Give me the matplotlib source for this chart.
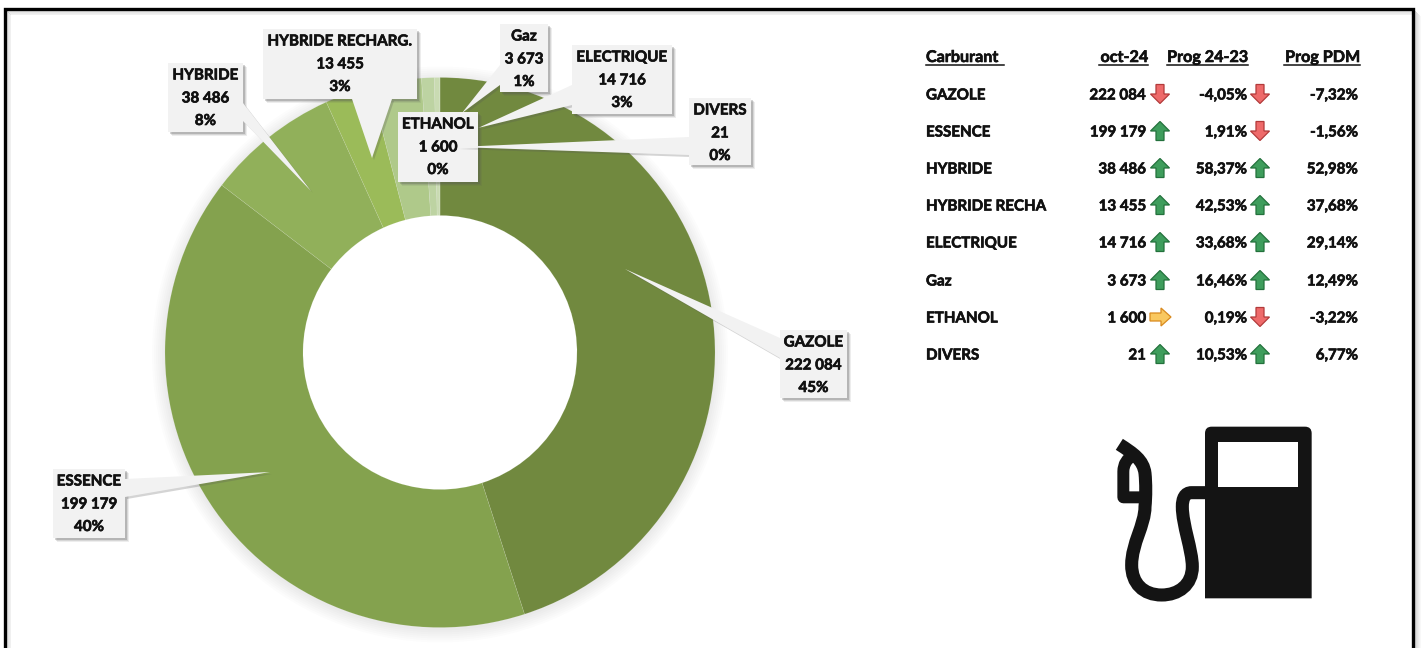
#!/usr/bin/env python3
"""Immatriculations par carburant : anneau a gauche, tableau a droite."""
import matplotlib
matplotlib.use("Agg")
import matplotlib.patheffects as pe
import matplotlib.pyplot as plt
from matplotlib.patches import Circle, PathPatch, Polygon, Rectangle
from matplotlib.path import Path
from matplotlib.transforms import Bbox, TransformedBbox

plt.rcParams["font.family"] = ["Lato", "DejaVu Sans"]
plt.rcParams["font.weight"] = "bold"

W, H = 1426, 648

carburants = ["GAZOLE", "ESSENCE", "HYBRIDE", "HYBRIDE RECHARG.",
              "ELECTRIQUE", "Gaz", "ETHANOL", "DIVERS"]
volumes = [222084, 199179, 38486, 13455, 14716, 3673, 1600, 21]
prog_24_23 = [-4.05, 1.91, 58.37, 42.53, 33.68, 16.46, 0.19, 10.53]
prog_pdm = [-7.32, -1.56, 52.98, 37.68, 29.14, 12.49, -3.22, 6.77]
fleche_volume = ["down", "up", "up", "up", "up", "up", "flat", "up"]
fleche_prog = ["down", "down", "up", "up", "up", "up", "down", "up"]

couleurs = ["#71893F", "#84A24E", "#91B05A", "#9BBB59",
            "#AFC98A", "#BDD3A2", "#C9DBB2", "#D5E3C4"]

# boites des etiquettes (gauche, droite, haut, bas) en pixels, puis la pointe
boites = {
    "GAZOLE": (780, 847, 330, 398),
    "ESSENCE": (53, 125, 469, 538),
    "HYBRIDE": (168, 243, 63, 132),
    "HYBRIDE RECHARG.": (263, 417, 29, 99),
    "Gaz": (500, 548, 24, 92),
    "ELECTRIQUE": (572, 672, 45, 114),
    "DIVERS": (689, 751, 98, 165),
    "ETHANOL": (398, 478, 112, 182),
}
pointeurs = {
    "GAZOLE": [(780, 338), (625, 269), (780, 358)],
    "ESSENCE": [(125, 479), (270, 472), (125, 497)],
    "HYBRIDE": [(243, 103), (311, 191), (243, 121)],
    "HYBRIDE RECHARG.": [(352, 99), (372, 158), (392, 99)],
    "Gaz": [(500, 65), (462, 113), (500, 85)],
    "ELECTRIQUE": [(572, 85), (478, 128), (572, 105)],
    "DIVERS": [(689, 137), (457, 147), (689, 155)],
}
ordre_etiquettes = ["GAZOLE", "ESSENCE", "HYBRIDE", "HYBRIDE RECHARG.", "Gaz",
                    "ELECTRIQUE", "ETHANOL", "DIVERS"]

lignes_y = [95.5, 132.5, 169.5, 206.5, 243.5, 281.5, 318.5, 355.5]
GRAS = [pe.withStroke(linewidth=0.45, foreground="#111111")]


def Y(y):
    return H - y


def fmt_vol(v):
    return f"{v:,}".replace(",", " ")


def fmt_pct(v):
    return f"{v:.2f}%".replace(".", ",")


def texte(ax, x, y, txt, ha="center", size=10.9, zorder=5):
    return ax.text(x, Y(y), txt, ha=ha, va="center", fontsize=size, color="#111111",
                   zorder=zorder, path_effects=GRAS)


def fleche(ax, cx, cy, sens):
    # petite fleche de mise en forme conditionnelle, 19 px
    if sens == "flat":
        pts = [(-10, -4), (1, -4), (1, -9), (11, 0), (1, 9), (1, 4), (-10, 4)]
        face, bord = "#F9C860", "#D98A1E"
    else:
        s = -1 if sens == "up" else 1
        pts = [(-4, -9.5 * s), (4, -9.5 * s), (4, 0), (9.5, 0), (0, 9.5 * s), (-9.5, 0), (-4, 0)]
        face, bord = ("#3E9D5C", "#23713C") if sens == "up" else ("#EE6A6A", "#B23A3A")
    ax.add_patch(Polygon([(cx + x, Y(cy + y)) for x, y in pts], closed=True,
                         fc=face, ec=bord, lw=0.9, zorder=5))


def etiquette(ax, nom, pct, zorder):
    g, d, h, b = boites[nom]
    forme = [(g, h), (d, h), (d, b), (g, b)]
    for dec, alpha in ((4, 0.10), (3, 0.15), (2, 0.25)):
        ax.add_patch(Polygon([(x + dec, Y(y + dec)) for x, y in forme], closed=True,
                             fc="#555555", ec="none", alpha=alpha, zorder=zorder))
    if nom in pointeurs:
        pts = pointeurs[nom]
        ax.add_patch(Polygon([(x + 2, Y(y + 2)) for x, y in pts], closed=True,
                             fc="#555555", ec="none", alpha=0.25, zorder=zorder))
        ax.add_patch(Polygon([(x, Y(y)) for x, y in pts], closed=True,
                             fc="#F2F2F2", ec="none", zorder=zorder + 0.1))
    ax.add_patch(Polygon([(x, Y(y)) for x, y in forme], closed=True,
                         fc="#F2F2F2", ec="none", zorder=zorder + 0.1))
    cx = (g + d) / 2
    vol = volumes[carburants.index(nom)]
    for y, txt in zip((h + 12.5, h + 35.5, h + 58), (nom, fmt_vol(vol), pct)):
        texte(ax, cx, y, txt, zorder=zorder + 0.2)


def pompe(ax):
    def P(x, y):
        return (1090 + x / 3, Y(410 + y / 3))

    codes_corps = [Path.MOVETO, Path.LINETO, Path.CURVE3, Path.CURVE3, Path.LINETO,
                   Path.CURVE3, Path.CURVE3, Path.LINETO, Path.CLOSEPOLY]
    corps = [P(345, 565), P(345, 70), P(345, 50), P(365, 50), P(645, 50),
             P(665, 50), P(665, 70), P(665, 565), P(345, 565)]
    ax.add_patch(PathPatch(Path(corps, codes_corps), fc="#141414", ec="none", zorder=3))
    x0, y0 = P(385, 232)
    x1, y1 = P(625, 97)
    ax.add_patch(Rectangle((x0, y0), x1 - x0, y1 - y0, fc="white", ec="none", zorder=4))

    tuyau = [P(345, 248), P(305, 248),
             P(285, 248), P(277, 265), P(277, 290),
             P(277, 345), P(307, 420), P(307, 470),
             P(307, 525), P(265, 555), P(215, 555),
             P(160, 555), P(125, 520), P(125, 465),
             P(125, 400), P(165, 345), P(165, 290),
             P(168, 260), P(168, 220), P(165, 190),
             P(160, 150), P(130, 130), P(88, 103)]
    codes = [Path.MOVETO, Path.LINETO] + [Path.CURVE4] * 21
    ax.add_patch(PathPatch(Path(tuyau, codes), fc="none", ec="#141414", lw=9.4, capstyle="butt",
                           zorder=3))
    boucle = [P(132, 135), P(100, 150), P(100, 185), P(100, 262), P(160, 262)]
    ax.add_patch(PathPatch(Path(boucle, [Path.MOVETO, Path.CURVE3, Path.CURVE3, Path.LINETO, Path.LINETO]),
                           fc="none", ec="#141414", lw=8.6, joinstyle="round", zorder=3))


fig = plt.figure(figsize=(W / 100, H / 100), dpi=100)
ax = fig.add_axes([0, 0, 1, 1])
ax.set_xlim(0, W)
ax.set_ylim(0, H)
ax.axis("off")

# cadre et son ombre
FX0, FX1, FY0 = 4.5, 1413, 8.5
for i in range(1, 8):
    a = 0.22 * (1 - i / 8)
    ax.add_patch(Rectangle((FX1 + i, 0), 1, Y(FY0 + i), fc="black", ec="none", alpha=a, zorder=0.5))
    if i < 6:
        ax.add_patch(Rectangle((FX0 + i, 0), 1, Y(FY0 + i), fc="black", ec="none", alpha=a * 0.7, zorder=0.5))
        ax.add_patch(Rectangle((FX0 + i, Y(FY0 + i + 1)), FX1 - FX0 - i, 1, fc="black", ec="none", alpha=a * 0.7, zorder=0.5))
ax.add_patch(Rectangle((FX0, -20), FX1 - FX0, Y(FY0) + 20, fc="none", ec="black", lw=2.4, zorder=0.6))

# ombre douce de l'anneau
cx, cy, r_ext, r_int = 440, 352.5, 275, 137
for dr in range(13, 0, -2):
    ax.add_patch(Circle((cx, Y(cy + 2)), r_ext + dr, fc="black", ec="none", alpha=0.012, zorder=1))
ax.add_patch(Circle((cx, Y(cy)), r_int + 2, fc="white", ec="none", zorder=1.5))

wedges, _ = ax.pie(volumes, colors=couleurs, startangle=90, counterclock=False,
                   center=(cx, Y(cy)), radius=r_ext, frame=True,
                   wedgeprops=dict(width=r_ext - r_int, edgecolor="#FFFFFF28", linewidth=0.4, zorder=2))
ax.set_xlim(0, W)
ax.set_ylim(0, H)
ax.set_aspect("equal")
ax.axis("off")

total = sum(volumes)
for i, nom in enumerate(ordre_etiquettes):
    pct = f"{volumes[carburants.index(nom)] / total * 100:.0f}%"
    etiquette(ax, nom, pct, 6 + i)

# tableau
for x, txt, ha, (u0, u1) in ((926, "Carburant", "left", (926, 1004)),
                             (1148, "oct-24", "right", (1099, 1148)),
                             (1248, "Prog 24-23", "right", (1167, 1248)),
                             (1360, "Prog PDM", "right", (1284, 1360))):
    texte(ax, x, 58, txt, ha=ha, size=11.6)
    ax.plot([u0, u1], [Y(65), Y(65)], color="#111111", lw=1.1, zorder=5)

clip_nom = TransformedBbox(Bbox([[920, 0], [1047, H]]), ax.transData)
for i, nom in enumerate(carburants):
    y = lignes_y[i]
    t = texte(ax, 926, y, nom, ha="left")
    t.set_clip_on(True)
    t.set_clip_box(clip_nom)
    texte(ax, 1146, y, fmt_vol(volumes[i]), ha="right")
    fleche(ax, 1160, y - 1.5, fleche_volume[i])
    texte(ax, 1247, y, fmt_pct(prog_24_23[i]), ha="right")
    fleche(ax, 1260, y - 1.5, fleche_prog[i])
    texte(ax, 1358, y, fmt_pct(prog_pdm[i]), ha="right")

pompe(ax)

fig.savefig("out.png", dpi=100)
